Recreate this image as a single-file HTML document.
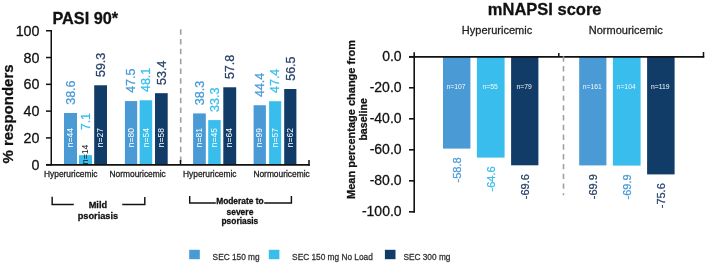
<!DOCTYPE html>
<html><head><meta charset="utf-8"><style>
html,body{margin:0;padding:0;background:#fff;}
body{width:706px;height:264px;overflow:hidden;}
svg{display:block;font-family:"Liberation Sans", sans-serif;will-change:transform;}
text{stroke-width:0.28px;}
</style></head><body>
<svg width="706" height="264" viewBox="0 0 706 264">
<line x1="180.7" y1="29.3" x2="180.7" y2="164" stroke="#a0a0a0" stroke-width="1.6" stroke-dasharray="5.5 4.28"/>
<rect x="64.0" y="113.00" width="13.00" height="51.70" fill="#4a9ad6"/>
<rect x="79.0" y="155.19" width="13.00" height="9.51" fill="#38bdec"/>
<rect x="94.2" y="85.27" width="12.80" height="79.43" fill="#113c68"/>
<rect x="124.9" y="101.07" width="12.30" height="63.63" fill="#4a9ad6"/>
<rect x="139.6" y="100.27" width="12.60" height="64.43" fill="#38bdec"/>
<rect x="155.0" y="93.17" width="12.70" height="71.53" fill="#113c68"/>
<rect x="193.1" y="113.40" width="12.70" height="51.30" fill="#4a9ad6"/>
<rect x="208.2" y="120.09" width="12.50" height="44.61" fill="#38bdec"/>
<rect x="223.3" y="87.28" width="12.90" height="77.42" fill="#113c68"/>
<rect x="253.6" y="105.23" width="12.30" height="59.47" fill="#4a9ad6"/>
<rect x="269.1" y="101.21" width="12.10" height="63.49" fill="#38bdec"/>
<rect x="284.2" y="89.02" width="12.20" height="75.68" fill="#113c68"/>
<text transform="translate(73.20,147.2) rotate(-90)" font-size="8.5" fill="#fff" stroke="none">n=44</text>
<text transform="translate(74.70,104.80) rotate(-90)" font-size="12.5" fill="#4a9ad6" stroke="#4a9ad6">38.6</text>
<text transform="translate(88.20,164.2) rotate(-90)" font-size="8.7" fill="#111" stroke="none">n=14</text>
<text transform="translate(90.30,130.30) rotate(-90)" font-size="12.5" fill="#38bdec" stroke="#38bdec">7.1</text>
<text transform="translate(103.30,147.2) rotate(-90)" font-size="8.5" fill="#fff" stroke="none">n=27</text>
<text transform="translate(104.80,77.07) rotate(-90)" font-size="12.5" fill="#2a4468" stroke="#2a4468">59.3</text>
<text transform="translate(133.75,147.2) rotate(-90)" font-size="8.5" fill="#fff" stroke="none">n=80</text>
<text transform="translate(135.25,92.87) rotate(-90)" font-size="12.5" fill="#4a9ad6" stroke="#4a9ad6">47.5</text>
<text transform="translate(148.60,147.2) rotate(-90)" font-size="8.5" fill="#fff" stroke="none">n=54</text>
<text transform="translate(150.10,92.07) rotate(-90)" font-size="12.5" fill="#38bdec" stroke="#38bdec">48.1</text>
<text transform="translate(164.05,147.2) rotate(-90)" font-size="8.5" fill="#fff" stroke="none">n=58</text>
<text transform="translate(165.55,84.97) rotate(-90)" font-size="12.5" fill="#2a4468" stroke="#2a4468">53.4</text>
<text transform="translate(202.15,147.2) rotate(-90)" font-size="8.5" fill="#fff" stroke="none">n=81</text>
<text transform="translate(203.65,105.20) rotate(-90)" font-size="12.5" fill="#4a9ad6" stroke="#4a9ad6">38.3</text>
<text transform="translate(217.15,147.2) rotate(-90)" font-size="8.5" fill="#fff" stroke="none">n=45</text>
<text transform="translate(218.65,111.89) rotate(-90)" font-size="12.5" fill="#38bdec" stroke="#38bdec">33.3</text>
<text transform="translate(232.45,147.2) rotate(-90)" font-size="8.5" fill="#fff" stroke="none">n=64</text>
<text transform="translate(233.95,79.08) rotate(-90)" font-size="12.5" fill="#2a4468" stroke="#2a4468">57.8</text>
<text transform="translate(262.45,147.2) rotate(-90)" font-size="8.5" fill="#fff" stroke="none">n=99</text>
<text transform="translate(263.95,97.03) rotate(-90)" font-size="12.5" fill="#4a9ad6" stroke="#4a9ad6">44.4</text>
<text transform="translate(277.85,147.2) rotate(-90)" font-size="8.5" fill="#fff" stroke="none">n=57</text>
<text transform="translate(279.35,93.01) rotate(-90)" font-size="12.5" fill="#38bdec" stroke="#38bdec">47.4</text>
<text transform="translate(293.00,147.2) rotate(-90)" font-size="8.5" fill="#fff" stroke="none">n=62</text>
<text transform="translate(294.50,80.82) rotate(-90)" font-size="12.5" fill="#2a4468" stroke="#2a4468">56.5</text>
<line x1="51.25" y1="30" x2="51.25" y2="165.4" stroke="#111" stroke-width="1.5"/>
<line x1="46" y1="164.9" x2="309.7" y2="164.9" stroke="#111" stroke-width="1.9"/>
<line x1="46" y1="164.70" x2="51" y2="164.70" stroke="#111" stroke-width="1.5"/>
<text x="39.5" y="169.80" font-size="14.3" text-anchor="end" fill="#111" stroke="#111">0</text>
<line x1="46" y1="137.91" x2="51" y2="137.91" stroke="#111" stroke-width="1.5"/>
<text x="39.5" y="143.01" font-size="14.3" text-anchor="end" fill="#111" stroke="#111">20</text>
<line x1="46" y1="111.12" x2="51" y2="111.12" stroke="#111" stroke-width="1.5"/>
<text x="39.5" y="116.22" font-size="14.3" text-anchor="end" fill="#111" stroke="#111">40</text>
<line x1="46" y1="84.33" x2="51" y2="84.33" stroke="#111" stroke-width="1.5"/>
<text x="39.5" y="89.43" font-size="14.3" text-anchor="end" fill="#111" stroke="#111">60</text>
<line x1="46" y1="57.54" x2="51" y2="57.54" stroke="#111" stroke-width="1.5"/>
<text x="39.5" y="62.64" font-size="14.3" text-anchor="end" fill="#111" stroke="#111">80</text>
<line x1="46" y1="30.75" x2="51" y2="30.75" stroke="#111" stroke-width="1.5"/>
<text x="39.5" y="35.85" font-size="14.3" text-anchor="end" fill="#111" stroke="#111">100</text>
<line x1="180.5" y1="160" x2="180.5" y2="165" stroke="#111" stroke-width="1.5"/>
<line x1="309.0" y1="159.9" x2="309.0" y2="165.8" stroke="#111" stroke-width="1.5"/>
<text x="44.0" y="177.2" font-size="8.4" fill="#222" stroke="#222">Hyperuricemic</text>
<text x="109.5" y="177.2" font-size="8.4" fill="#222" stroke="#222">Normouricemic</text>
<text x="183.0" y="177.2" font-size="8.4" fill="#222" stroke="#222">Hyperuricemic</text>
<text x="253.4" y="177.2" font-size="8.4" fill="#222" stroke="#222">Normouricemic</text>
<text transform="translate(13.4,114) rotate(-90)" font-size="15" font-weight="bold" text-anchor="middle" fill="#111" stroke="#111">% responders</text>
<text x="52.4" y="23.9" font-size="16.3" font-weight="bold" fill="#111" stroke="#111">PASI 90*</text>
<path d="M52.15,196.8 V204.4 H73.8 M122.2,204.45 H144.8 V196.9" fill="none" stroke="#111" stroke-width="1.45"/>
<text x="97.9" y="207.8" font-size="9.2" font-weight="bold" text-anchor="middle" fill="#111" stroke="#111">Mild</text>
<text x="97.9" y="219.0" font-size="9.2" font-weight="bold" text-anchor="middle" fill="#111" stroke="#111">psoriasis</text>
<path d="M189.7,196.1 V203 H215.8 M264.2,203 H291.4 V196.1" fill="none" stroke="#111" stroke-width="1.45"/>
<text x="239.9" y="204.1" font-size="8.4" font-weight="bold" text-anchor="middle" fill="#111" stroke="#111">Moderate to</text>
<text x="239.9" y="214.5" font-size="8.5" font-weight="bold" text-anchor="middle" fill="#111" stroke="#111">severe</text>
<text x="239.9" y="224.2" font-size="8.4" font-weight="bold" text-anchor="middle" fill="#111" stroke="#111">psoriasis</text>
<rect x="443.0" y="56.75" width="27.40" height="91.85" fill="#4a9ad6"/>
<text transform="translate(456.10,89.1) scale(0.85,1)" font-size="8" text-anchor="middle" fill="#f4f8fc" stroke="none">n=107</text>
<text transform="translate(460.65,157.40) rotate(-90)" font-size="11" text-anchor="end" fill="#4a9ad6" stroke="#4a9ad6">-58.8</text>
<rect x="476.9" y="56.75" width="27.70" height="100.85" fill="#38bdec"/>
<text transform="translate(490.15,89.1) scale(0.85,1)" font-size="8" text-anchor="middle" fill="#f4f8fc" stroke="none">n=55</text>
<text transform="translate(494.70,166.40) rotate(-90)" font-size="11" text-anchor="end" fill="#38bdec" stroke="#38bdec">-64.6</text>
<rect x="511.1" y="56.75" width="27.30" height="108.55" fill="#113c68"/>
<text transform="translate(524.15,89.1) scale(0.85,1)" font-size="8" text-anchor="middle" fill="#f4f8fc" stroke="none">n=79</text>
<text transform="translate(528.70,174.10) rotate(-90)" font-size="11" text-anchor="end" fill="#2a4468" stroke="#2a4468">-69.6</text>
<rect x="579.2" y="56.75" width="27.20" height="108.65" fill="#4a9ad6"/>
<text transform="translate(592.20,89.1) scale(0.85,1)" font-size="8" text-anchor="middle" fill="#f4f8fc" stroke="none">n=161</text>
<text transform="translate(596.75,174.20) rotate(-90)" font-size="11" text-anchor="end" fill="#2a4468" stroke="#2a4468">-69.9</text>
<rect x="612.9" y="56.75" width="27.70" height="108.85" fill="#38bdec"/>
<text transform="translate(626.15,89.1) scale(0.85,1)" font-size="8" text-anchor="middle" fill="#f4f8fc" stroke="none">n=104</text>
<text transform="translate(630.70,174.40) rotate(-90)" font-size="11" text-anchor="end" fill="#4a9ad6" stroke="#4a9ad6">-69.9</text>
<rect x="647.1" y="56.75" width="27.50" height="117.65" fill="#113c68"/>
<text transform="translate(660.25,89.1) scale(0.85,1)" font-size="8" text-anchor="middle" fill="#f4f8fc" stroke="none">n=119</text>
<text transform="translate(664.80,183.20) rotate(-90)" font-size="11" text-anchor="end" fill="#2a4468" stroke="#2a4468">-75.6</text>
<line x1="414.2" y1="52.2" x2="414.2" y2="212.7" stroke="#111" stroke-width="1.6"/>
<line x1="409" y1="56.95" x2="704.2" y2="56.95" stroke="#111" stroke-width="1.7"/>
<line x1="563.5" y1="56.3" x2="563.5" y2="195.3" stroke="#a0a0a0" stroke-width="1.6" stroke-dasharray="5.4 4.38"/>
<line x1="558.8" y1="53" x2="558.8" y2="57" stroke="#111" stroke-width="1.5"/>
<line x1="703.5" y1="52" x2="703.5" y2="57.6" stroke="#111" stroke-width="1.5"/>
<line x1="409" y1="56.75" x2="414.2" y2="56.75" stroke="#111" stroke-width="1.6"/>
<text x="401.6" y="61.25" font-size="14" text-anchor="end" fill="#111" stroke="#111">0.0</text>
<line x1="409" y1="87.77" x2="414.2" y2="87.77" stroke="#111" stroke-width="1.6"/>
<text x="401.6" y="92.27" font-size="14" text-anchor="end" fill="#111" stroke="#111">-20.0</text>
<line x1="409" y1="118.79" x2="414.2" y2="118.79" stroke="#111" stroke-width="1.6"/>
<text x="401.6" y="123.29" font-size="14" text-anchor="end" fill="#111" stroke="#111">-40.0</text>
<line x1="409" y1="149.81" x2="414.2" y2="149.81" stroke="#111" stroke-width="1.6"/>
<text x="401.6" y="154.31" font-size="14" text-anchor="end" fill="#111" stroke="#111">-60.0</text>
<line x1="409" y1="180.83" x2="414.2" y2="180.83" stroke="#111" stroke-width="1.6"/>
<text x="401.6" y="185.33" font-size="14" text-anchor="end" fill="#111" stroke="#111">-80.0</text>
<line x1="409" y1="211.85" x2="414.2" y2="211.85" stroke="#111" stroke-width="1.6"/>
<text x="401.6" y="216.35" font-size="14" text-anchor="end" fill="#111" stroke="#111">-100.0</text>
<text x="497" y="33.6" font-size="11" text-anchor="middle" fill="#222" stroke="#222">Hyperuricemic</text>
<text x="625.8" y="33.6" font-size="11" text-anchor="middle" fill="#222" stroke="#222">Normouricemic</text>
<text x="544.7" y="14.8" font-size="16.5" font-weight="bold" text-anchor="middle" fill="#111" stroke="#111">mNAPSI score</text>
<text transform="translate(354.6,119.5) rotate(-90)" font-size="11" font-weight="bold" text-anchor="middle" fill="#111" stroke="#111">Mean percentage change from</text>
<text transform="translate(366.6,119.4) rotate(-90)" font-size="10.6" font-weight="bold" text-anchor="middle" fill="#111" stroke="#111">baseline</text>
<rect x="189.2" y="249.8" width="10.6" height="9.4" fill="#4a9ad6"/>
<text x="212.6" y="259.9" font-size="8.3" fill="#333" stroke="#333">SEC 150 mg</text>
<rect x="268.8" y="249.8" width="10.6" height="9.4" fill="#38bdec"/>
<text x="292.1" y="259.9" font-size="8.3" fill="#333" stroke="#333">SEC 150 mg No Load</text>
<rect x="384.9" y="249.8" width="10.6" height="9.4" fill="#113c68"/>
<text x="403.4" y="259.9" font-size="8.3" fill="#333" stroke="#333">SEC 300 mg</text>
</svg>
</body></html>
